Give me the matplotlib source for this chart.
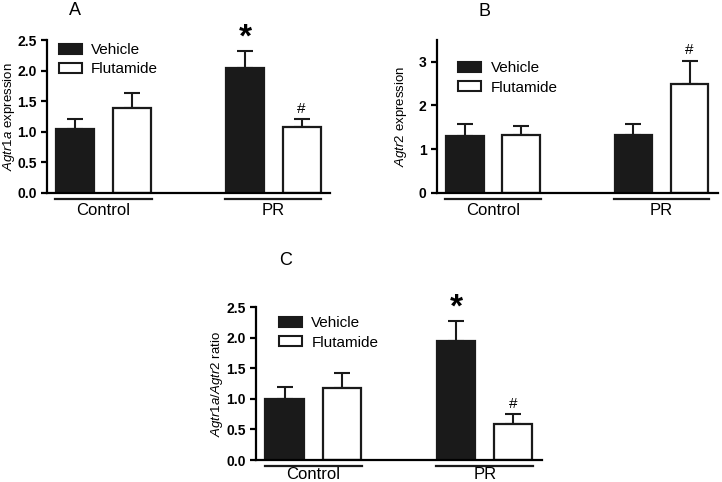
import matplotlib
matplotlib.use("Agg")
import matplotlib.pyplot as plt
from matplotlib.patches import Patch

plt.rcParams['font.family'] = ['Liberation Sans', 'DejaVu Sans']
plt.rcParams['mathtext.fontset'] = 'custom'
plt.rcParams['mathtext.it'] = 'Liberation Sans:italic'
plt.rcParams['mathtext.rm'] = 'Liberation Sans'

groups = ["Control", "PR"]
treatments = ["Vehicle", "Flutamide"]

# means per panel: [control vehicle, control flutamide, PR vehicle, PR flutamide]
agtr1a_mean = [1.05, 1.38, 2.05, 1.07]
agtr1a_sem = [0.16, 0.25, 0.27, 0.14]
agtr2_mean = [1.30, 1.32, 1.32, 2.50]
agtr2_sem = [0.27, 0.21, 0.26, 0.53]
ratio_mean = [1.00, 1.18, 1.95, 0.59]
ratio_sem = [0.20, 0.25, 0.32, 0.16]

# significance marks per bar
marks_a = ["", "", "*", "#"]
marks_b = ["", "", "", "#"]
marks_c = ["", "", "*", "#"]

positions = [0, 1, 3, 4]
colors = ["#1a1a1a", "white", "#1a1a1a", "white"]


def draw_panel(ax, means, sems, marks, ylabel, ylim, yticks, yfmt, legend_xy,
               label_x, xpad=7):
    ax.bar(positions, means, width=0.67, color=colors, edgecolor="#1a1a1a",
           linewidth=1.6, zorder=2)
    ax.errorbar(positions, means, yerr=[[0] * 4, sems], fmt="none",
                ecolor="#1a1a1a", elinewidth=1.5, capsize=6, capthick=1.5, zorder=1)
    for p, m, s, mk in zip(positions, means, sems, marks):
        if mk == "*":
            ax.text(p, m + s + ylim[1] * 0.085, "*", ha="center", va="center",
                    fontsize=24, fontweight="bold", clip_on=False)
        elif mk == "#":
            ax.text(p, m + s + ylim[1] * 0.02, "#", ha="center", va="bottom",
                    fontsize=11, clip_on=False)
    ax.set_xlim(-0.5, 4.5)
    ax.set_ylim(*ylim)
    ax.set_yticks(yticks)
    ax.set_yticklabels([yfmt.format(t) for t in yticks], fontweight="bold", fontsize=10)
    ax.spines["top"].set_visible(False)
    ax.spines["right"].set_visible(False)
    ax.spines["left"].set_linewidth(1.6)
    ax.spines["bottom"].set_linewidth(1.6)
    ax.tick_params(axis="y", width=1.6, length=4)
    ax.set_xticks([0.5, 3.5])
    ax.set_xticklabels(groups, fontsize=12)
    ax.tick_params(axis="x", length=0, pad=xpad)
    trans = ax.get_xaxis_transform()
    for c in [0.5, 3.5]:
        ax.plot([c - 0.85, c + 0.85], [-0.04, -0.04], color="#1a1a1a", lw=1.6,
                transform=trans, clip_on=False)
    ax.set_ylabel(ylabel, fontsize=9.5)
    ax.yaxis.set_label_coords(label_x, 0.5)
    handles = [Patch(facecolor="#1a1a1a", edgecolor="#1a1a1a", linewidth=1.5),
               Patch(facecolor="white", edgecolor="#1a1a1a", linewidth=1.5)]
    ax.legend(handles, treatments, loc="upper left", bbox_to_anchor=legend_xy,
              frameon=False, fontsize=11, handlelength=1.5, handleheight=0.65,
              labelspacing=0.35, handletextpad=0.6, borderaxespad=0)


fig = plt.figure(figsize=(7.22, 4.82), dpi=100)
ax_a = fig.add_axes([0.065, 0.600, 0.392, 0.317])
ax_b = fig.add_axes([0.605, 0.600, 0.389, 0.317])
ax_c = fig.add_axes([0.3546, 0.0456, 0.396, 0.317])

draw_panel(ax_a, agtr1a_mean, agtr1a_sem, marks_a, r"$\mathit{Agtr1a}$ expression",
           (0, 2.5), [0.0, 0.5, 1.0, 1.5, 2.0, 2.5], "{:.1f}", (0.02, 1.02), -0.105)
draw_panel(ax_b, agtr2_mean, agtr2_sem, marks_b, r"$\mathit{Agtr2}$ expression",
           (0, 3.5), [0, 1, 2, 3], "{:.0f}", (0.055, 0.9), -0.10)
draw_panel(ax_c, ratio_mean, ratio_sem, marks_c, r"$\mathit{Agtr1a/Agtr2}$ ratio",
           (0, 2.5), [0.0, 0.5, 1.0, 1.5, 2.0, 2.5], "{:.1f}", (0.06, 0.98), -0.108,
           xpad=5)

# panel letters
fig.text(75 / 722, 1 - 2 / 482, "A", ha="center", va="top", fontsize=13)
fig.text(484 / 722, 1 - 3 / 482, "B", ha="center", va="top", fontsize=13)
fig.text(286 / 722, 1 - 252 / 482, "C", ha="center", va="top", fontsize=13)

fig.savefig("out.png", dpi=100)
